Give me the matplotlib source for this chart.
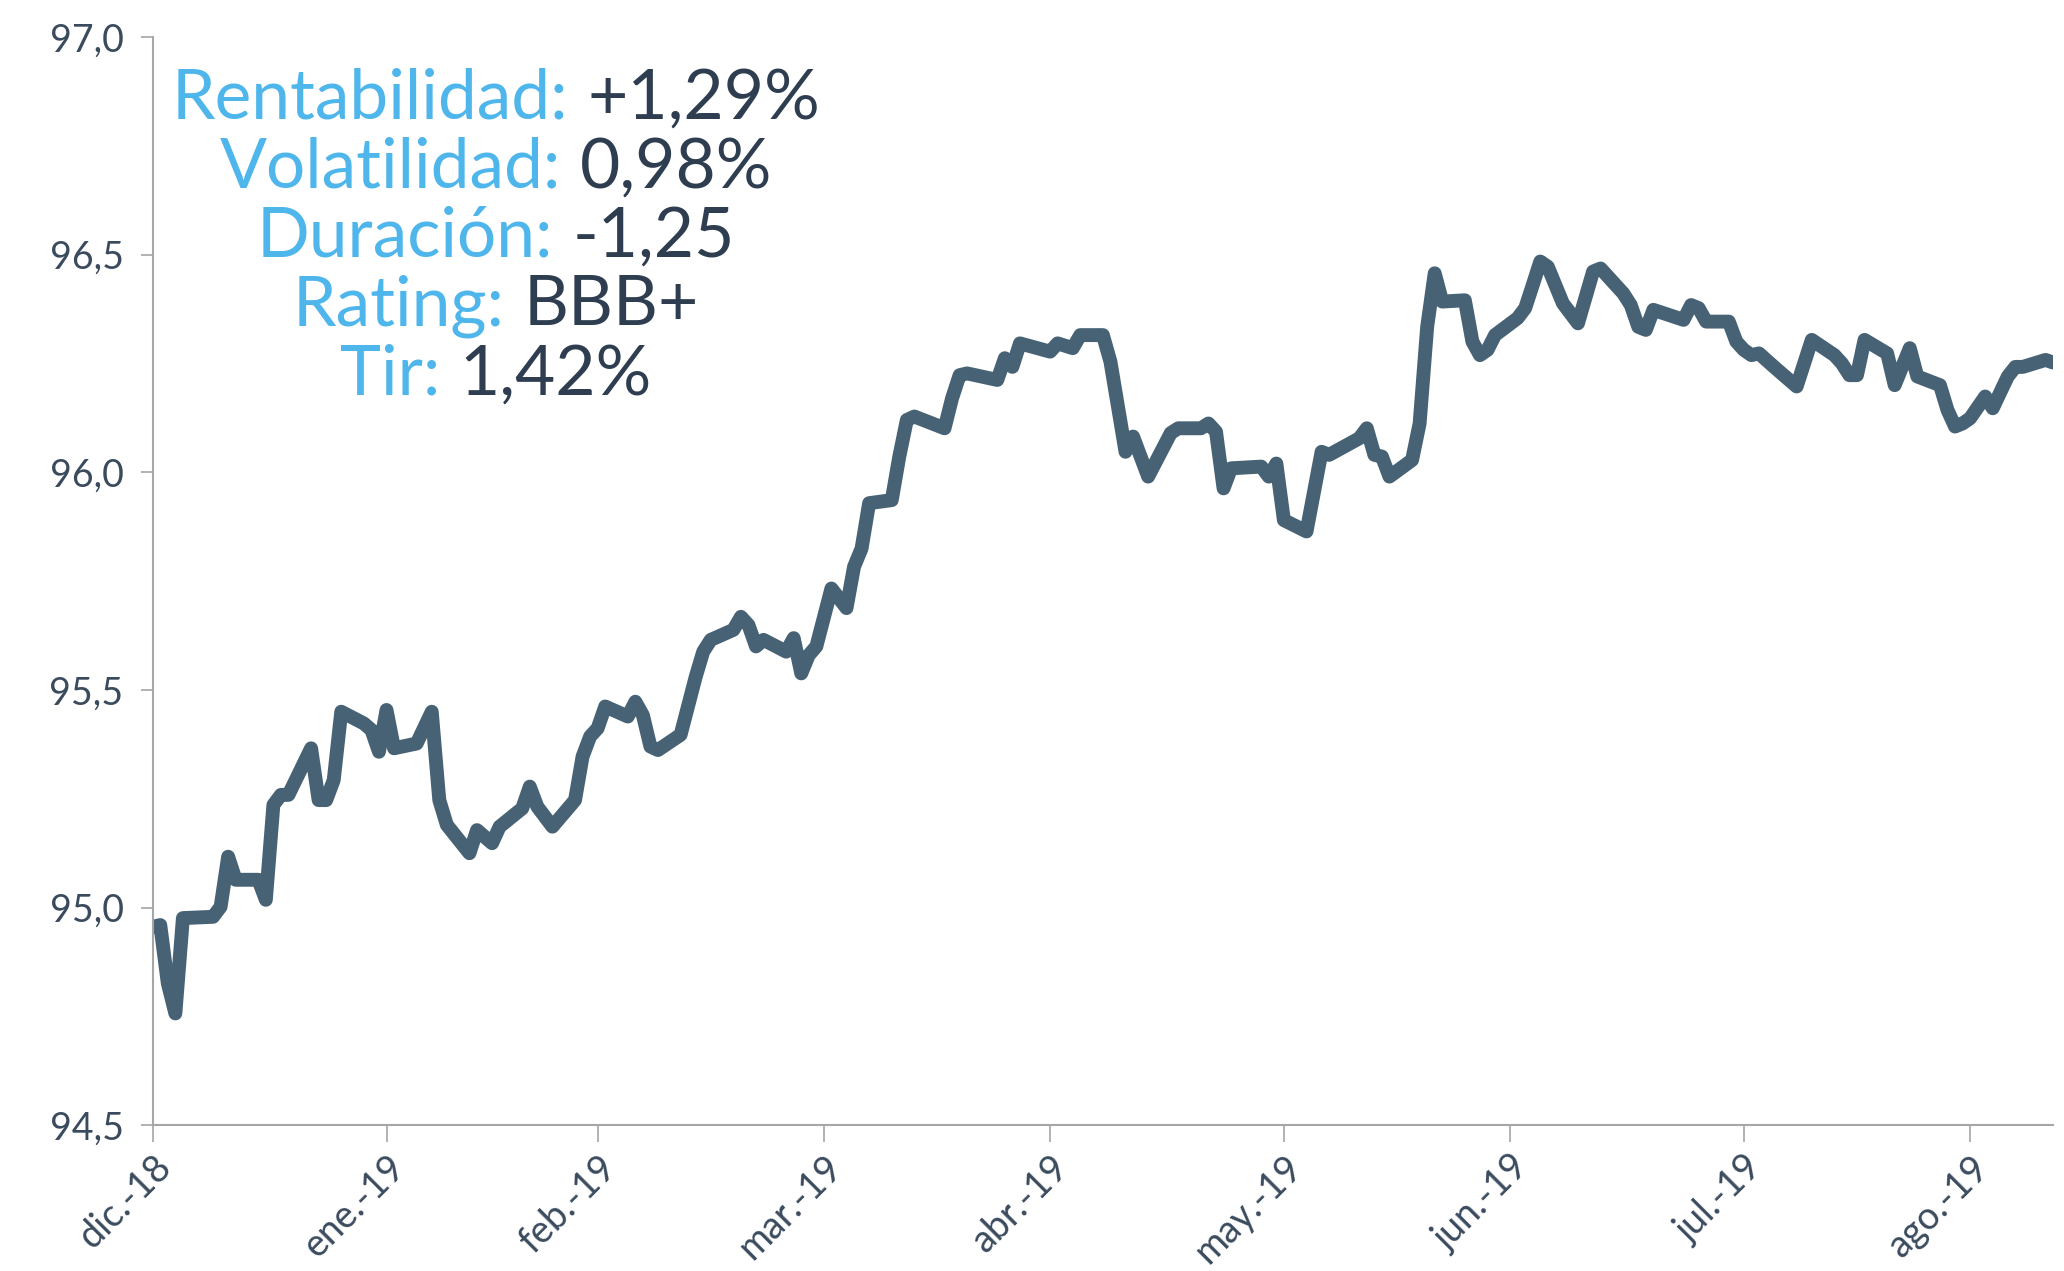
import matplotlib
matplotlib.use("Agg")
import matplotlib.pyplot as plt
from matplotlib.offsetbox import TextArea, HPacker, AnnotationBbox

# dias desde el inicio de la serie (dic.-18) y precio del fondo
dias = [0, 1, 2, 3, 4, 8, 9, 10, 11, 14, 15, 16, 17, 18, 21, 22, 23, 24, 25, 28,
        29, 30, 31, 32, 35, 37, 38, 39, 42, 43, 45, 46, 49, 50, 51, 53, 56, 57, 58, 59,
        60, 63, 64, 65, 66, 67, 70, 72, 73, 74, 77, 78, 79, 80, 81, 84, 85, 86, 87, 88,
        90, 92, 93, 94, 95, 98, 99, 100, 101, 105, 106, 107, 108, 112, 113, 114, 115, 119, 120, 122,
        123, 126, 127, 129, 130, 132, 135, 136, 139, 140, 141, 142, 143, 147, 148, 149, 150, 153, 155, 156,
        160, 161, 162, 163, 164, 167, 168, 169, 170, 171, 174, 175, 176, 177, 178, 181, 182, 183, 184, 185,
        187, 189, 191, 192, 195, 196, 197, 198, 199, 203, 204, 205, 206, 209, 210, 211, 212, 213, 215, 216,
        218, 220, 223, 224, 225, 226, 227, 230, 231, 233, 234, 237, 238, 239, 240, 241, 243, 244, 246, 247,
        248, 251, 252]
precio = [94.956, 94.960, 94.826, 94.757, 94.976, 94.979, 95.002, 95.117, 95.064, 95.064,
          95.018, 95.236, 95.259, 95.259, 95.366, 95.247, 95.247, 95.293, 95.450, 95.423,
          95.408, 95.358, 95.454, 95.366, 95.377, 95.450, 95.247, 95.190, 95.125, 95.178,
          95.148, 95.186, 95.228, 95.278, 95.232, 95.186, 95.247, 95.347, 95.393, 95.412,
          95.462, 95.439, 95.473, 95.442, 95.370, 95.362, 95.397, 95.530, 95.588, 95.615,
          95.638, 95.668, 95.649, 95.600, 95.615, 95.588, 95.619, 95.538, 95.580, 95.600,
          95.733, 95.688, 95.783, 95.825, 95.929, 95.936, 96.036, 96.120, 96.128, 96.101,
          96.170, 96.223, 96.227, 96.212, 96.262, 96.242, 96.296, 96.277, 96.296, 96.285,
          96.315, 96.315, 96.254, 96.047, 96.082, 95.990, 96.090, 96.101, 96.101, 96.112,
          96.093, 95.963, 96.009, 96.013, 95.990, 96.020, 95.890, 95.864, 96.047, 96.040,
          96.078, 96.101, 96.040, 96.036, 95.990, 96.028, 96.112, 96.334, 96.457, 96.392,
          96.395, 96.300, 96.269, 96.281, 96.315, 96.354, 96.377, 96.430, 96.484, 96.472,
          96.388, 96.342, 96.461, 96.468, 96.411, 96.384, 96.334, 96.327, 96.373, 96.350,
          96.384, 96.377, 96.346, 96.346, 96.300, 96.281, 96.269, 96.273, 96.242, 96.227,
          96.197, 96.304, 96.269, 96.250, 96.223, 96.223, 96.304, 96.273, 96.200, 96.285,
          96.220, 96.200, 96.143, 96.105, 96.112, 96.124, 96.174, 96.147, 96.220, 96.242,
          96.242, 96.258, 96.252]

tick_dias = [0, 31, 59, 89, 119, 150, 180, 211, 241]
tick_meses = ["dic.-18", "ene.-19", "feb.-19", "mar.-19", "abr.-19",
              "may.-19", "jun.-19", "jul.-19", "ago.-19"]
y_ticks = [94.5, 95.0, 95.5, 96.0, 96.5, 97.0]
y_etiquetas = ["94,5", "95,0", "95,5", "96,0", "96,5", "97,0"]

etiquetas = ["Rentabilidad:", "Volatilidad:", "Duración:", "Rating:", "Tir:"]
valores = ["+1,29%", "0,98%", "-1,25", "BBB+", "1,42%"]

plt.rcParams['font.family'] = ['Lato', 'DejaVu Sans']

AZUL = "#4FB6EC"
OSCURO = "#2E3D50"
LINEA = "#476275"
GRIS = "#A6A6A6"

fig = plt.figure(figsize=(20.64, 12.71), dpi=100)
ax = fig.add_axes([0.074, 0.1146, 0.9207, 0.8564])

ax.plot(dias, precio, color=LINEA, lw=10, solid_joinstyle="round",
        solid_capstyle="round")

ax.set_xlim(0, 252)
ax.set_ylim(94.5, 97.0)
ax.set_yticks(y_ticks)
ax.set_yticklabels(y_etiquetas)
ax.set_xticks(tick_dias)
ax.set_xticklabels(tick_meses, rotation=45, ha="right", va="top",
                   rotation_mode="anchor")

for s in ["top", "right"]:
    ax.spines[s].set_visible(False)
for s in ["left", "bottom"]:
    ax.spines[s].set_color(GRIS)
    ax.spines[s].set_linewidth(1.5)

ax.tick_params(axis="y", length=9, width=1.2, color=GRIS, pad=12,
               labelsize=27, labelcolor="#3B4B5E")
ax.tick_params(axis="x", length=12, width=1.2, color=GRIS, pad=5,
               labelsize=27, labelcolor="#3B4B5E")

# bloque de indicadores, cada linea centrada
y0 = 1271 - 99
for i, (et, va) in enumerate(zip(etiquetas, valores)):
    caja = HPacker(children=[
        TextArea(et, textprops=dict(color=AZUL, size=50)),
        TextArea(va, textprops=dict(color=OSCURO, size=50)),
    ], align="baseline", pad=0, sep=14)
    ab = AnnotationBbox(caja, (496, y0 - i * 69), xycoords="figure pixels",
                        box_alignment=(0.5, 0.5), frameon=False)
    fig.add_artist(ab)

fig.savefig("out.png", dpi=100, facecolor="white")
